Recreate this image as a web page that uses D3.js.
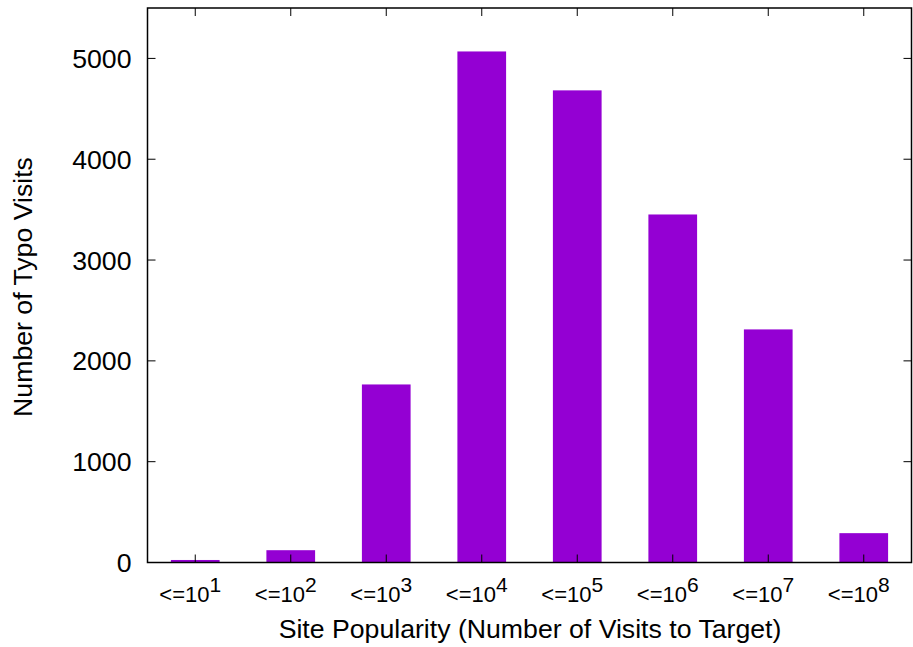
<!DOCTYPE html>
<html><head><meta charset="utf-8">
<script src="https://cdn.jsdelivr.net/npm/d3@7"></script>
<style>body{margin:0;background:#fff}text{font-family:"Liberation Sans",Arial,sans-serif;fill:#000}</style>
</head><body><svg id="c" width="913" height="647"></svg>
<script>
const categories = ["1","2","3","4","5","6","7","8"];
const values = [25, 122, 1766, 5069, 4683, 3452, 2312, 291];
const yTicks = [0, 1000, 2000, 3000, 4000, 5000];
const xTitle = "Site Popularity (Number of Visits to Target)";
const yTitle = "Number of Typo Visits";

const svg = d3.select("#c");
const L = 147.5, R = 911.5, T = 8, B = 562.5;
const x = d3.scaleBand().domain(categories).range([L, R]).paddingInner(0).paddingOuter(0);
const y = d3.scaleLinear().domain([0, 5500]).range([B, T]);
const bw = x.bandwidth() * 0.51;

svg.selectAll("rect.bar").data(values).enter().append("rect")
  .attr("class","bar")
  .attr("x", (d,i) => x(categories[i]) + x.bandwidth()/2 - bw/2)
  .attr("y", d => y(d))
  .attr("width", bw)
  .attr("height", d => B - y(d))
  .attr("fill", "#9400d3");

const tickLen = 8;
const g = svg.append("g").attr("stroke","#000").attr("stroke-width",1);
yTicks.forEach(t => {
  g.append("line").attr("x1",L).attr("x2",L+tickLen).attr("y1",y(t)).attr("y2",y(t));
  g.append("line").attr("x1",R).attr("x2",R-tickLen).attr("y1",y(t)).attr("y2",y(t));
  svg.append("text").attr("x",131.5).attr("y",y(t)+9.5).attr("text-anchor","end")
    .attr("font-size",26.67).text(t);
});
categories.forEach(c => {
  const cx = x(c) + x.bandwidth()/2;
  g.append("line").attr("x1",cx).attr("x2",cx).attr("y1",B).attr("y2",B-tickLen);
  g.append("line").attr("x1",cx).attr("x2",cx).attr("y1",T).attr("y2",T+tickLen);
  const tx = svg.append("text").attr("x",cx-5).attr("y",602).attr("text-anchor","middle").attr("font-size",22);
  tx.append("tspan").text("<=10");
  tx.append("tspan").attr("dy",-10).attr("font-size",21).text(c);
});

svg.append("rect").attr("x",L).attr("y",T).attr("width",R-L).attr("height",B-T)
  .attr("fill","none").attr("stroke","#000").attr("stroke-width",1.5);

svg.append("text").attr("x",530).attr("y",638).attr("text-anchor","middle")
  .attr("font-size",26.67).text(xTitle);
svg.append("text").attr("transform","translate(31.5,287) rotate(-90)").attr("text-anchor","middle")
  .attr("font-size",26.67).text(yTitle);
</script></body></html>
